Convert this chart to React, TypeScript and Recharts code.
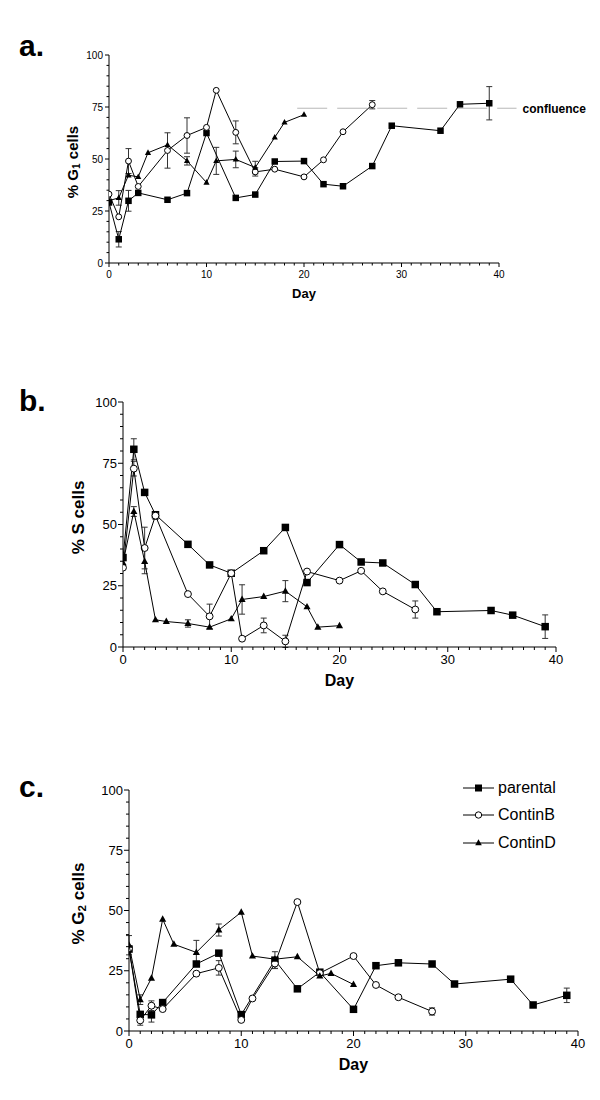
import React from 'react';
import { ComposedChart, Scatter, XAxis, YAxis, ErrorBar, ReferenceLine, Legend } from 'recharts';

const FONT = '"Liberation Sans", Arial, Helvetica, sans-serif';

// sampling days per line
const PARENTAL_DAYS = [0, 1, 2, 3, 6, 8, 10, 13, 15, 17, 20, 22, 24, 27, 29, 34, 36, 39];
const CONTINB_DAYS = [0, 1, 2, 3, 6, 8, 10, 11, 13, 15, 17, 20, 22, 24, 27];
const CONTIND_DAYS = [0, 1, 2, 3, 4, 6, 8, 10, 11, 13, 15, 17, 18, 20];

// a. % G1 cells
const PAR_G1 = [29.1, 11.4, 29.9, 33.7, 30.4, 33.6, 62.5, 31.3, 32.9, 48.8, 49, 37.9, 36.9, 46.6, 66, 63.6, 76.3, 76.8];
const PAR_G1_ERR = [0, 3.7, 5, 0, 0, 0, 0, 0, 0, 0, 0, 0, 0, 0, 0, 0, 0, 8];
const CB_G1 = [33.1, 22.2, 49, 36.8, 54.1, 61.3, 65.2, 83, 62.8, 43.8, 45.1, 41.4, 49.6, 63.1, 76.1];
const CB_G1_ERR = [0, 0, 6, 0, 8.5, 8.5, 0, 0, 5.5, 2, 0, 0, 0, 0, 2];
const CD_G1 = [30, 31.3, 42.2, 41.4, 53, 56.8, 49.1, 38.7, 49.1, 49.8, 45.9, 60.4, 67.6, 71.3];
const CD_G1_ERR = [0, 3.5, 0, 0, 0, 0, 2, 0, 6.5, 4, 3, 0, 0, 0];
const CONFLUENCE = 74.4;

// b. % S cells
const PAR_S = [36.5, 80.7, 63.1, 54, 41.9, 33.5, 30.1, 39.3, 48.8, 26.3, 41.8, 34.7, 34.3, 25.5, 14.4, 14.9, 13, 8.3];
const PAR_S_ERR = [0, 4.3, 0, 0, 0, 0, 0, 0, 0, 0, 0, 0, 0, 0, 0, 0, 0, 4.8];
const CB_S = [32.4, 72.8, 40.4, 53.6, 21.6, 12.5, 30.1, 3.4, 8.8, 2.3, 30.8, 27.1, 31.1, 22.7, 15.3];
const CB_S_ERR = [0, 3, 8.5, 1.5, 0, 5, 0, 0, 3, 2.5, 0, 0, 0, 0, 3.5];
const CD_S = [34.4, 55.3, 34.9, 11.1, 10.4, 9.6, 8.1, 11.5, 19.4, 20.6, 22.8, 16.4, 8.1, 8.7];
const CD_S_ERR = [0, 2, 5, 0, 0, 1.5, 0, 0, 6, 0, 4.3, 0, 0, 0];

// c. % G2 cells
const PAR_G2 = [34, 6.9, 6.7, 11.8, 27.8, 32.3, 6.8, 29.4, 17.5, 24.4, 9, 27.1, 28.3, 27.8, 19.5, 21.5, 10.8, 14.8];
const PAR_G2_ERR = [0, 0, 3, 0, 0, 0, 0, 3.5, 0, 0, 0, 0, 0, 0, 0, 0, 0, 3];
const CB_G2 = [34.3, 4.4, 10.5, 9.1, 23.8, 26.2, 4.6, 13.5, 28, 53.5, 24, 31.1, 19.1, 14, 8.1];
const CB_G2_ERR = [0, 2, 2, 0, 0, 3, 0, 0, 2, 0, 0, 0, 0, 0, 1.5];
const CD_G2 = [35.6, 13, 21.9, 46.4, 36, 32.6, 41.9, 49.3, 31.1, 29.8, 30.8, 22.8, 23.9, 19.3];
const CD_G2_ERR = [4, 2, 0, 0, 0, 5, 2.5, 0, 0, 0, 0, 0, 0, 0];

const LEGEND_NAMES = ['parental', 'ContinB', 'ContinD'];
const MARKERS = ['square', 'circle', 'triangle'] as const;

const X_TICKS = Array.from({ length: 41 }, (_, i) => i);
const Y_TICKS = Array.from({ length: 21 }, (_, i) => i * 5);

type Pt = { x: number; y: number; err?: number };
const toPoints = (days: number[], vals: number[], errs: number[]): Pt[] =>
  days.map((d, i) => ({ x: d, y: vals[i], err: errs[i] || undefined }));

function Marker({ kind, cx, cy, s }: { kind: string; cx: number; cy: number; s: number }) {
  if (kind === 'square') return <rect x={cx - s / 2} y={cy - s / 2} width={s} height={s} fill="#000" />;
  if (kind === 'circle') return <circle cx={cx} cy={cy} r={s / 2 - 0.3} fill="#fff" stroke="#000" strokeWidth={1} />;
  const w = s * 0.95;
  return (
    <polygon
      points={`${cx},${cy - w * 0.55} ${cx - w / 2},${cy + w * 0.35} ${cx + w / 2},${cy + w * 0.35}`}
      fill="#000"
    />
  );
}

const makeXTick = (fs: number, major: number, minor: number, gap: number) => (props: any) => {
  const { x, y, payload } = props;
  const isMajor = payload.value % 10 === 0;
  return (
    <g>
      <line x1={x} x2={x} y1={y} y2={y + (isMajor ? major : minor)} stroke="#000" />
      {isMajor && (
        <text x={x} y={y + gap} dy="0.71em" textAnchor="middle" fontSize={fs} fontFamily={FONT} fill="#000">
          {payload.value}
        </text>
      )}
    </g>
  );
};

const makeYTick = (fs: number, major: number, minor: number, gap: number) => (props: any) => {
  const { x, y, payload } = props;
  const isMajor = payload.value % 25 === 0;
  return (
    <g>
      <line x1={x - (isMajor ? major : minor)} x2={x} y1={y} y2={y} stroke="#000" />
      {isMajor && (
        <text x={x - gap} y={y} dy="0.35em" textAnchor="end" fontSize={fs} fontFamily={FONT} fill="#000">
          {payload.value}
        </text>
      )}
    </g>
  );
};

const makeYLabel = (main: string, sub: string, rest: string, fs: number, dx: number, dy: number) => (props: any) => {
  const vb = props.viewBox || { x: 0, y: 0, width: 0, height: 0 };
  const cx = vb.x + vb.width - dx;
  const cy = vb.y + vb.height / 2 + dy;
  return (
    <text
      x={cx}
      y={cy}
      transform={`rotate(-90 ${cx} ${cy})`}
      textAnchor="middle"
      dominantBaseline="central"
      fontSize={fs}
      fontWeight="bold"
      fontFamily={FONT}
      fill="#000"
    >
      {main}
      {sub && (
        <tspan dy={fs * 0.25} fontSize={fs * 0.68}>
          {sub}
        </tspan>
      )}
      <tspan dy={sub ? -fs * 0.25 : 0}>{rest}</tspan>
    </text>
  );
};

const makeXLabel = (fs: number, dy: number) => (props: any) => {
  const vb = props.viewBox || { x: 0, y: 0, width: 0, height: 0 };
  return (
    <text x={vb.x + vb.width / 2} y={vb.y + dy} textAnchor="middle" fontSize={fs} fontWeight="bold" fontFamily={FONT} fill="#000">
      Day
    </text>
  );
};

function renderLegend() {
  return (
    <div style={{ fontFamily: FONT, fontSize: 16, color: '#000' }}>
      {LEGEND_NAMES.map((name, i) => (
        <div key={name} style={{ display: 'flex', alignItems: 'center', height: 27.5 }}>
          <svg width={32} height={14} style={{ marginRight: 3 }}>
            <line x1={0} x2={31} y1={7} y2={7} stroke="#000" />
            <Marker kind={MARKERS[i]} cx={15.5} cy={7} s={7} />
          </svg>
          <span>{name}</span>
        </div>
      ))}
    </div>
  );
}

interface PanelProps {
  top: number;
  height: number;
  margin: { top: number; right: number; bottom: number; left: number };
  data: Pt[][];
  big: boolean;
  yLabel: [string, string, string];
  yLabelDx: number;
  yLabelDy: number;
  xLabelDy: number;
  children?: React.ReactNode;
}

function Panel({ top, height, margin, data, big, yLabel, yLabelDx, yLabelDy, xLabelDy, children }: PanelProps) {
  const tickFs = big ? 13 : 10;
  const markerSize = big ? 7.5 : 6.5;
  return (
    <div style={{ position: 'absolute', left: 0, top }}>
      <ComposedChart width={600} height={height} margin={margin}>
        <XAxis
          type="number"
          dataKey="x"
          domain={[0, 40]}
          allowDataOverflow
          ticks={X_TICKS}
          interval={0}
          tickSize={0}
          tickMargin={0}
          tickLine={false}
          height={40}
          axisLine={{ stroke: '#000' }}
          tick={makeXTick(tickFs, big ? 5 : 4, big ? 3 : 2.5, big ? 7.5 : 8)}
          label={makeXLabel(big ? 16 : 13, big ? 39 : 35)}
        />
        <YAxis
          type="number"
          dataKey="y"
          domain={[0, 100]}
          allowDataOverflow
          ticks={Y_TICKS}
          interval={0}
          tickSize={0}
          tickMargin={0}
          tickLine={false}
          width={60}
          axisLine={{ stroke: '#000' }}
          tick={makeYTick(tickFs, big ? 5 : 4, big ? 3 : 2.5, 6)}
          label={makeYLabel(yLabel[0], yLabel[1], yLabel[2], big ? 17 : 15, yLabelDx, yLabelDy)}
        />
        {children}
        {data.map((pts, i) => (
          <Scatter
            key={LEGEND_NAMES[i]}
            name={LEGEND_NAMES[i]}
            data={pts}
            dataKey="y"
            fill="#000"
            line={{ stroke: '#000', strokeWidth: 1 }}
            lineType="joint"
            isAnimationActive={false}
            shape={(p: any) => <Marker kind={MARKERS[i]} cx={p.cx} cy={p.cy} s={markerSize} />}
          >
            <ErrorBar dataKey="err" direction="y" width={3} stroke="#333" strokeWidth={1} />
          </Scatter>
        ))}
      </ComposedChart>
    </div>
  );
}

export default function App() {
  const g1 = [
    toPoints(PARENTAL_DAYS, PAR_G1, PAR_G1_ERR),
    toPoints(CONTINB_DAYS, CB_G1, CB_G1_ERR),
    toPoints(CONTIND_DAYS, CD_G1, CD_G1_ERR),
  ];
  const s = [
    toPoints(PARENTAL_DAYS, PAR_S, PAR_S_ERR),
    toPoints(CONTINB_DAYS, CB_S, CB_S_ERR),
    toPoints(CONTIND_DAYS, CD_S, CD_S_ERR),
  ];
  const g2 = [
    toPoints(PARENTAL_DAYS, PAR_G2, PAR_G2_ERR),
    toPoints(CONTINB_DAYS, CB_G2, CB_G2_ERR),
    toPoints(CONTIND_DAYS, CD_G2, CD_G2_ERR),
  ];

  return (
    <div style={{ position: 'absolute', left: 0, top: 0, width: 600, height: 1100, background: '#fff', fontFamily: FONT }}>
      <Panel
        top={0}
        height={320}
        margin={{ top: 55, right: 101, bottom: 17, left: 49 }}
        data={g1}
        big={false}
        yLabel={['% G', '1', ' cells']}
        yLabelDx={37}
        yLabelDy={3}
        xLabelDy={35}
      >
        <ReferenceLine
          segment={[
            { x: 19.3, y: CONFLUENCE },
            { x: 41.8, y: CONFLUENCE },
          ]}
          ifOverflow="visible"
          stroke="#b8b8b8"
          strokeWidth={1}
          strokeDasharray="30 10"
          label={{ value: 'confluence', position: 'right', offset: 6, fontSize: 12, fontWeight: 'bold', fill: '#000', fontFamily: FONT }}
        />
      </Panel>
      <Panel
        top={370}
        height={340}
        margin={{ top: 32, right: 44, bottom: 23, left: 63 }}
        data={s}
        big
        yLabel={['% S cells', '', '']}
        yLabelDx={45}
        yLabelDy={-7}
        xLabelDy={39}
      />
      <Panel
        top={760}
        height={340}
        margin={{ top: 30, right: 22, bottom: 29, left: 69 }}
        data={g2}
        big
        yLabel={['% G', '2', ' cells']}
        yLabelDx={51}
        yLabelDy={-7}
        xLabelDy={39}
      >
        <Legend
          layout="vertical"
          align="center"
          verticalAlign="middle"
          content={renderLegend}
          wrapperStyle={{ left: 463, top: 14, width: 135, height: 85 }}
        />
      </Panel>
      <svg width={600} height={1100} style={{ position: 'absolute', left: 0, top: 0, pointerEvents: 'none' }}>
        <text x={19} y={56} fontSize={30} fontWeight="bold" fontFamily={FONT} fill="#000">a.</text>
        <text x={19} y={411} fontSize={30} fontWeight="bold" fontFamily={FONT} fill="#000">b.</text>
        <text x={19} y={797} fontSize={30} fontWeight="bold" fontFamily={FONT} fill="#000">c.</text>
      </svg>
    </div>
  );
}
